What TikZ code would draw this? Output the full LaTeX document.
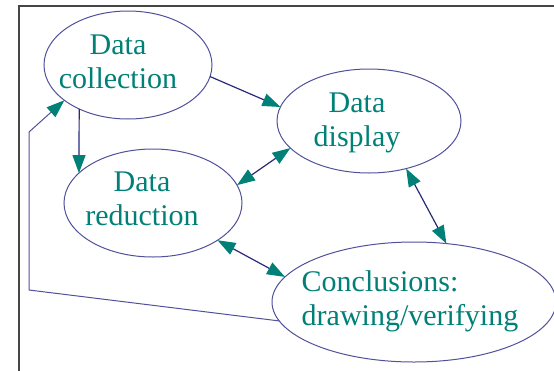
\documentclass[tikz,border=0pt]{standalone}
\usepackage{fontspec}
\setmainfont{Liberation Serif}
\usetikzlibrary{arrows.meta, positioning, shapes.geometric}
\definecolor{stageteal}{RGB}{0,128,118}
\definecolor{ringblue}{RGB}{80,80,155}
\definecolor{linknavy}{RGB}{40,40,125}
\definecolor{framegray}{RGB}{70,70,70}
\tikzset{
>={Triangle[length=18pt, width=13pt, color=stageteal]}, % big filled teal heads
stage/.style={ellipse, draw=ringblue, line width=1pt, inner sep=0pt, outer sep=0pt}, % the four ovals
caption/.style={text=stageteal, font=\fontsize{30}{34}\selectfont, inner sep=0pt, align=center}, % text inside the ovals
link/.style={draw=linknavy, line width=1.2pt}, % connectors between the ovals
}

\begin{document}
\begin{tikzpicture}[x=1pt, y=-1pt]
      \clip (0,0) rectangle (554,370);
      \draw[framegray, line width=1.6pt] (19,380) |- (570,6);

      \node[stage, minimum width=168pt, minimum height=108pt] (collection) at (128,65) {};
      \node[stage, minimum width=184pt, minimum height=104pt] (display) at (369,121) {};
      \node[stage, minimum width=178pt, minimum height=108pt] (reduction) at (153,203) {};
      \node[stage, minimum width=284pt, minimum height=120pt] (conclusions) at (414,302) {};

      \node[caption] (collection text) at (118,62) {Data\\collection};
      \node[caption] (display text) at (357,123) {Data\\display};
      \node[caption] (reduction text) at (142,199) {Data\\reduction};
      \node[caption, align=left] (conclusions text) at (410,301) {Conclusions:\\drawing/verifying};

      \coordinate (low bend) at (29,290);
      \coordinate (high bend) at (29,132);

      \draw[link, ->] (collection.-8) -- (display.171);
      \draw[link, ->] (collection.222) -- (reduction.158);
      \draw[link, <->] (display.199) -- (reduction.12);
      \draw[link, <->] (display.308) -- (conclusions.61);
      \draw[link, <->] (reduction.-30) -- (conclusions.169);
      \draw[link, draw=ringblue, line width=1pt, ->] (conclusions.188) -- (low bend) -- (high bend) -- (collection.209);
    \end{tikzpicture}
\end{document}
